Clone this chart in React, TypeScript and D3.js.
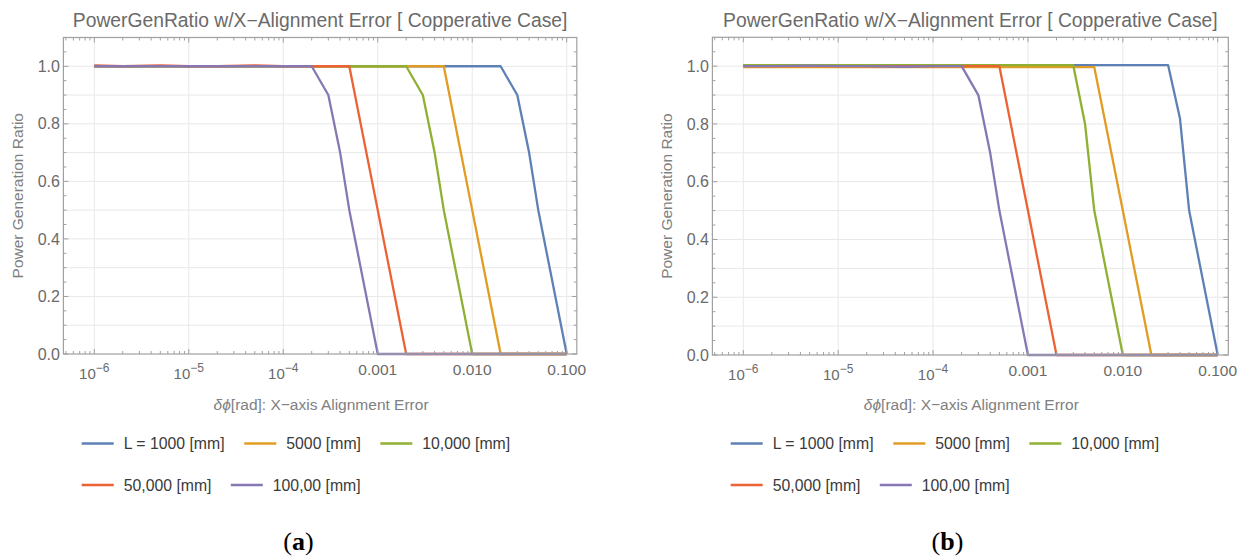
import React from "react";
import * as d3 from "d3";

// ---------- data ----------
const X_VALUES = [1e-6, 2e-6, 5e-6, 1e-5, 2e-5, 5e-5, 1e-4, 2e-4, 3e-4, 4e-4, 5e-4, 1e-3, 2e-3, 3e-3, 4e-3, 5e-3, 1e-2, 2e-2, 3e-2, 4e-2, 5e-2, 0.1];

const SERIES_NAMES = ["L = 1000 [mm]", "5000 [mm]", "10,000 [mm]", "50,000 [mm]", "100,00 [mm]"];
const SERIES_COLORS = ["#5E81B5", "#E19C24", "#8FB032", "#EB6235", "#8778B3"];

// panel (a)
const A_L1000 = [1, 1, 1, 1, 1, 1, 1, 1, 1, 1, 1, 1, 1, 1, 1, 1, 1, 1, 0.9, 0.7, 0.5, 0];
const A_L5000 = [1, 1, 1, 1, 1, 1, 1, 1, 1, 1, 1, 1, 1, 1, 1, 1, 0.5, 0, 0, 0, 0, 0];
const A_L10000 = [1, 1, 1, 1, 1, 1, 1, 1, 1, 1, 1, 1, 1, 0.9, 0.7, 0.5, 0, 0, 0, 0, 0, 0];
const A_L50000 = [1.003, 1, 1.003, 1, 1, 1.003, 1, 1, 1, 1, 1, 0.5, 0, 0, 0, 0, 0, 0, 0, 0, 0, 0];
const A_L100000 = [1, 1, 1, 1, 1, 1, 1, 1, 0.9, 0.7, 0.5, 0, 0, 0, 0, 0, 0, 0, 0, 0, 0, 0];

// panel (b)
const B_L1000 = [1.004, 1.004, 1.004, 1.004, 1.004, 1.004, 1.004, 1.004, 1.004, 1.004, 1.004, 1.004, 1.004, 1.004, 1.004, 1.004, 1.004, 1.004, 1.004, 0.82, 0.5, 0];
const B_L5000 = [0.997, 0.997, 0.997, 0.997, 0.997, 0.997, 0.997, 0.997, 0.997, 0.997, 0.997, 0.997, 0.997, 0.997, 0.997, 0.997, 0.5, 0, 0, 0, 0, 0];
const B_L10000 = [1.004, 1.004, 1.004, 1.004, 1.004, 1.004, 1.004, 1.004, 1.004, 1.004, 1.004, 1.004, 1.004, 1.004, 0.8, 0.5, 0, 0, 0, 0, 0, 0];
const B_L50000 = [1, 1, 1, 1, 1, 1, 1, 1, 1, 1, 1, 0.5, 0, 0, 0, 0, 0, 0, 0, 0, 0, 0];
const B_L100000 = [1, 1, 1.002, 1, 1, 0.998, 1, 1, 0.9, 0.7, 0.5, 0, 0, 0, 0, 0, 0, 0, 0, 0, 0, 0];

const X_TICK_VALUES = [1e-6, 1e-5, 1e-4, 1e-3, 1e-2, 1e-1];
const X_TICK_BASE = ["10", "10", "10", "0.001", "0.010", "0.100"];
const X_TICK_EXP = ["−6", "−5", "−4", "", "", ""];
const Y_TICK_VALUES = [0, 0.2, 0.4, 0.6, 0.8, 1.0];
const Y_TICK_LABELS = ["0.0", "0.2", "0.4", "0.6", "0.8", "1.0"];
const Y_GRID_VALUES = [0.1, 0.2, 0.3, 0.4, 0.5, 0.6, 0.7, 0.8, 0.9, 1.0];

const TITLE = "PowerGenRatio w/X−Alignment Error [ Copperative Case]";
const X_LABEL_SYMBOL = "δϕ";
const X_LABEL_REST = "[rad]: X−axis Alignment Error";
const Y_LABEL = "Power Generation Ratio";
const PANEL_TAGS = ["a", "b"];

// ---------- layout ----------
const FONT = "'Liberation Sans', Arial, Helvetica, sans-serif";
const PANELS = [
  { ox: 0, left: 63.4, right: 576.8, top: 37.5, bottom: 354, tickRange: [94.3, 566.7], series: [A_L1000, A_L5000, A_L10000, A_L50000, A_L100000] },
  { ox: 649, left: 712.4, right: 1228.3, top: 37.3, bottom: 355, tickRange: [743.3, 1217.7], series: [B_L1000, B_L5000, B_L10000, B_L50000, B_L100000] },
];
const LEGEND_ROWS = [
  { y: 443.5, items: [0, 1, 2], xs: [81.7, 244.3, 380.3] },
  { y: 485, items: [3, 4], xs: [81.7, 230.8] },
];
const SWATCH = 32;
const SWATCH_GAP = 10;

function Panel({ p, idx }: { p: any; idx: number }) {
  const x = d3.scaleLog().domain([1e-6, 0.1]).range(p.tickRange);
  const y = d3.scaleLinear().domain([0, 1.1]).range([p.bottom, p.top]);
  const line = d3
    .line<[number, number]>()
    .x((d) => x(d[0]))
    .y((d) => y(d[1]));

  // log minor ticks
  const xTicks: { v: number; major: boolean }[] = [];
  for (let e = -7; e <= 0; e++) {
    for (let k = 1; k <= 9; k++) {
      const v = k * Math.pow(10, e);
      const px = x(v);
      if (px >= p.left - 0.01 && px <= p.right + 0.01) xTicks.push({ v, major: k === 1 });
    }
  }
  const yTicks: { v: number; major: boolean }[] = d3.range(0, 22).map((i) => ({ v: i * 0.05, major: i % 4 === 0 }));

  const frameColor = "#a0a0a0";
  const gridColor = "#e8e8e8";
  const midX = (p.left + p.right) / 2;
  const midY = (p.top + p.bottom) / 2;

  return (
    <g>
      {/* grid */}
      {X_TICK_VALUES.map((v, i) => (
        <line key={"gx" + i} x1={x(v)} x2={x(v)} y1={p.top} y2={p.bottom} stroke={gridColor} strokeWidth={1} />
      ))}
      {Y_GRID_VALUES.map((v, i) => (
        <line key={"gy" + i} x1={p.left} x2={p.right} y1={y(v)} y2={y(v)} stroke={gridColor} strokeWidth={1} />
      ))}

      {/* series */}
      {p.series.map((vals: number[], si: number) => (
        <path
          key={"s" + si}
          d={line(X_VALUES.map((xv, j) => [xv, vals[j]] as [number, number])) || ""}
          fill="none"
          stroke={SERIES_COLORS[si]}
          strokeWidth={2.3}
          strokeLinejoin="round"
        />
      ))}

      {/* frame */}
      <rect x={p.left} y={p.top} width={p.right - p.left} height={p.bottom - p.top} fill="none" stroke={frameColor} strokeWidth={1.2} />

      {/* x ticks (bottom & top) */}
      {xTicks.map((t, i) => {
        const len = t.major ? 5 : 3;
        const px = x(t.v);
        return (
          <g key={"xt" + i}>
            <line x1={px} x2={px} y1={p.bottom} y2={p.bottom - len} stroke={frameColor} strokeWidth={1} />
            <line x1={px} x2={px} y1={p.top} y2={p.top + len} stroke={frameColor} strokeWidth={1} />
          </g>
        );
      })}
      {/* y ticks (left & right) */}
      {yTicks.map((t, i) => {
        const len = t.major ? 5 : 3;
        const py = y(t.v);
        return (
          <g key={"yt" + i}>
            <line x1={p.left} x2={p.left + len} y1={py} y2={py} stroke={frameColor} strokeWidth={1} />
            <line x1={p.right} x2={p.right - len} y1={py} y2={py} stroke={frameColor} strokeWidth={1} />
          </g>
        );
      })}

      {/* x tick labels */}
      {X_TICK_VALUES.map((v, i) =>
        X_TICK_EXP[i] ? (
          <text key={"xl" + i} x={x(v)} y={p.bottom + 24.5} textAnchor="middle" fontFamily={FONT} fontSize={15} fill="#6a6a6a">
            <tspan>{X_TICK_BASE[i]}</tspan>
            <tspan dy={-7} fontSize={12}>{X_TICK_EXP[i]}</tspan>
          </text>
        ) : (
          <text key={"xl" + i} x={x(v)} y={p.bottom + 21} textAnchor="middle" fontFamily={FONT} fontSize={15.5} fill="#6a6a6a">
            {X_TICK_BASE[i]}
          </text>
        )
      )}
      {/* y tick labels */}
      {Y_TICK_VALUES.map((v, i) => (
        <text key={"yl" + i} x={p.left - 3.5} y={y(v) + 5.6} textAnchor="end" fontFamily={FONT} fontSize={16} fill="#6a6a6a">
          {Y_TICK_LABELS[i]}
        </text>
      ))}

      {/* title */}
      <text x={midX} y={27} textAnchor="middle" fontFamily={FONT} fontSize={19.3} fill="#6a6a6a">
        {TITLE}
      </text>

      {/* axis labels */}
      <text x={midX + 1} y={409.5} textAnchor="middle" fontFamily={FONT} fontSize={15.5} fill="#808080">
        <tspan fontStyle="italic">{X_LABEL_SYMBOL}</tspan>
        <tspan>{X_LABEL_REST}</tspan>
      </text>
      <text
        transform={`translate(${p.ox + 23.3}, ${midY}) rotate(-90)`}
        textAnchor="middle"
        fontFamily={FONT}
        fontSize={15.5}
        fill="#808080"
      >
        {Y_LABEL}
      </text>

      {/* legend */}
      {LEGEND_ROWS.map((row, ri) =>
        row.items.map((si, k) => {
          const lx = p.ox + row.xs[k];
          return (
            <g key={"lg" + ri + "-" + k}>
              <line x1={lx} x2={lx + SWATCH} y1={row.y} y2={row.y} stroke={SERIES_COLORS[si]} strokeWidth={2.6} />
              <text x={lx + SWATCH + SWATCH_GAP} y={row.y + 5.7} fontFamily={FONT} fontSize={15.8} fill="#3a3a3a">
                {SERIES_NAMES[si]}
              </text>
            </g>
          );
        })
      )}

      {/* panel tag */}
      <text x={p.ox + 298.5} y={550} textAnchor="middle" fontFamily="'Liberation Serif', 'Times New Roman', serif" fontSize={26} fill="#000">
        <tspan>(</tspan>
        <tspan fontWeight="bold">{PANEL_TAGS[idx]}</tspan>
        <tspan>)</tspan>
      </text>
    </g>
  );
}

export default function App() {
  return (
    <svg
      width={1247}
      height={556}
      viewBox="0 0 1247 556"
      style={{ position: "absolute", left: 0, top: 0, display: "block", background: "#fff" }}
    >
      <rect x={0} y={0} width={1247} height={556} fill="#fff" />
      {PANELS.map((p, i) => (
        <Panel key={i} p={p} idx={i} />
      ))}
    </svg>
  );
}
